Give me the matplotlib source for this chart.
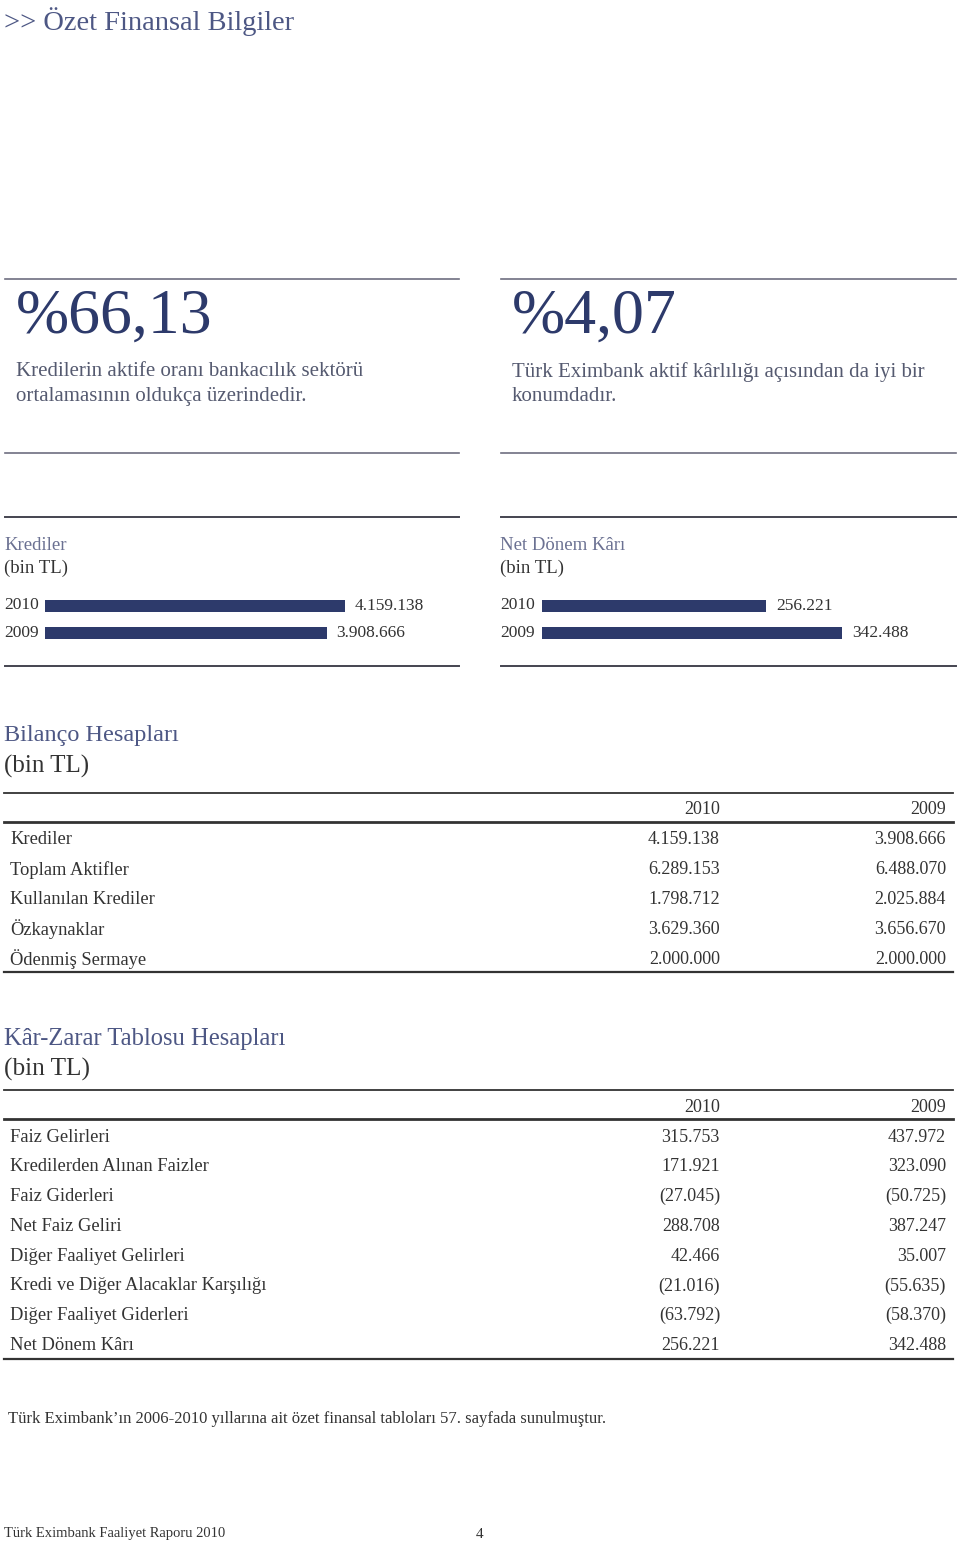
import matplotlib
matplotlib.use("Agg")
from matplotlib import pyplot as plt

plt.rcParams['font.family'] = ['Liberation Serif', 'DejaVu Serif']

# data
page_title = ">> Özet Finansal Bilgiler"
highlights = ["%66,13", "%4,07"]
highlight_notes = [
    "Kredilerin aktife oranı bankacılık sektörü\nortalamasının oldukça üzerindedir.",
    "Türk Eximbank aktif kârlılığı açısından da iyi bir\nkonumdadır.",
]

bar_titles = ["Krediler", "Net Dönem Kârı"]
bar_years = ["2010", "2009"]
krediler_vals = [4159138, 3908666]
net_kar_vals = [256221, 342488]
krediler_labels = ["4.159.138", "3.908.666"]
net_kar_labels = ["256.221", "342.488"]

bilanco_rows = ["Krediler", "Toplam Aktifler", "Kullanılan Krediler",
                "Özkaynaklar", "Ödenmiş Sermaye"]
bilanco_2010 = ["4.159.138", "6.289.153", "1.798.712", "3.629.360", "2.000.000"]
bilanco_2009 = ["3.908.666", "6.488.070", "2.025.884", "3.656.670", "2.000.000"]

karzarar_rows = ["Faiz Gelirleri", "Kredilerden Alınan Faizler", "Faiz Giderleri",
                 "Net Faiz Geliri", "Diğer Faaliyet Gelirleri",
                 "Kredi ve Diğer Alacaklar Karşılığı", "Diğer Faaliyet Giderleri",
                 "Net Dönem Kârı"]
karzarar_2010 = ["315.753", "171.921", "(27.045)", "288.708", "42.466",
                 "(21.016)", "(63.792)", "256.221"]
karzarar_2009 = ["437.972", "323.090", "(50.725)", "387.247", "35.007",
                 "(55.635)", "(58.370)", "342.488"]

footnote = "Türk Eximbank’ın 2006-2010 yıllarına ait özet finansal tabloları 57. sayfada sunulmuştur."
footer = "Türk Eximbank Faaliyet Raporu 2010"
page_no = "4"

navy = "#2d3a6b"
title_col = "#4d5784"
label_col = "#6b7192"
text_col = "#333333"

W, H = 960, 1543
fig = plt.figure(figsize=(W / 100, H / 100), dpi=100)
ax = fig.add_axes([0, 0, 1, 1])
ax.set_xlim(0, W)
ax.set_ylim(H, 0)
ax.axis("off")

ax.text(4, 22, page_title, fontsize=20.5, color=title_col, va="center")

# highlight boxes
cols = [(5, 459), (501, 956)]
for (x0, x1), big, note in zip(cols, highlights, highlight_notes):
    ax.plot([x0, x1], [279, 279], color="#6e6e80", lw=1.2)
    ax.plot([x0, x1], [453, 453], color="#6e6e80", lw=1.2)
    ax.text(x0 + 11, 318, big, fontsize=46, color=navy, va="center")
    ax.text(x0 + 11, 384, note, fontsize=15, color="#555a70", va="center",
            linespacing=1.4)

# bar charts
bar_sets = [(krediler_vals, krediler_labels), (net_kar_vals, net_kar_labels)]
bar_left = [45, 542]
for i, ((x0, x1), title, (vals, labels)) in enumerate(zip(cols, bar_titles, bar_sets)):
    ax.plot([x0, x1], [517, 517], color="#444450", lw=1.4)
    ax.plot([x0, x1], [666, 666], color="#444450", lw=1.4)
    ax.text(x0 - 1, 545, title, fontsize=13.5, color=label_col, va="center")
    ax.text(x0 - 1, 568, "(bin TL)", fontsize=13.5, color=text_col, va="center")
    for j, yr in enumerate(bar_years):
        ax.text(x0 - 1, 605 + j * 28, yr, fontsize=12.5, color=text_col, va="center")

    left = bar_left[i]
    bax = fig.add_axes([left / W, 1 - 648 / H, 300 / W, 57 / H])
    bax.set_xlim(0, max(vals))
    bax.set_ylim(1.55, -0.55)
    bax.barh(range(len(vals)), vals, height=0.44, color=navy)
    for j, (v, lab) in enumerate(zip(vals, labels)):
        bax.annotate(lab, (v, j), xytext=(7, 0), textcoords="offset points",
                     fontsize=12.5, color=text_col, va="center")
    bax.axis("off")


def draw_table(title, title_y, top, rows, v10, v09, title_size):
    ax.text(4, title_y, title, fontsize=title_size, color=title_col, va="center")
    ax.text(4, title_y + 30, "(bin TL)", fontsize=title_size + 0.5, color=text_col,
            va="center")
    ax.plot([4, 953], [top, top], color="#333333", lw=1.3)
    ax.text(720, top + 17, "2010", fontsize=13, color=text_col, va="center", ha="right")
    ax.text(946, top + 17, "2009", fontsize=13, color=text_col, va="center", ha="right")
    ax.plot([4, 953], [top + 29, top + 29], color="#333333", lw=2)
    step = 29.8
    for k, (name, a, b) in enumerate(zip(rows, v10, v09)):
        y = top + 47 + k * step
        ax.text(10, y, name, fontsize=13.3, color=text_col, va="center")
        ax.text(720, y, a, fontsize=13, color=text_col, va="center", ha="right")
        ax.text(946, y, b, fontsize=13, color=text_col, va="center", ha="right")
    bottom = top + 45 + (len(rows) - 1) * step + 15
    ax.plot([4, 953], [bottom, bottom], color="#333333", lw=1.6)


draw_table("Bilanço Hesapları", 736, 793, bilanco_rows, bilanco_2010, bilanco_2009, 17.5)
draw_table("Kâr-Zarar Tablosu Hesapları", 1039, 1090, karzarar_rows, karzarar_2010,
           karzarar_2009, 17.7)

ax.text(8, 1419, footnote, fontsize=12, color=text_col, va="center")
ax.text(4, 1534, footer, fontsize=10.5, color=text_col, va="center")
ax.text(480, 1534, page_no, fontsize=11, color=text_col, va="center", ha="center")

fig.savefig("out.png", dpi=100)
